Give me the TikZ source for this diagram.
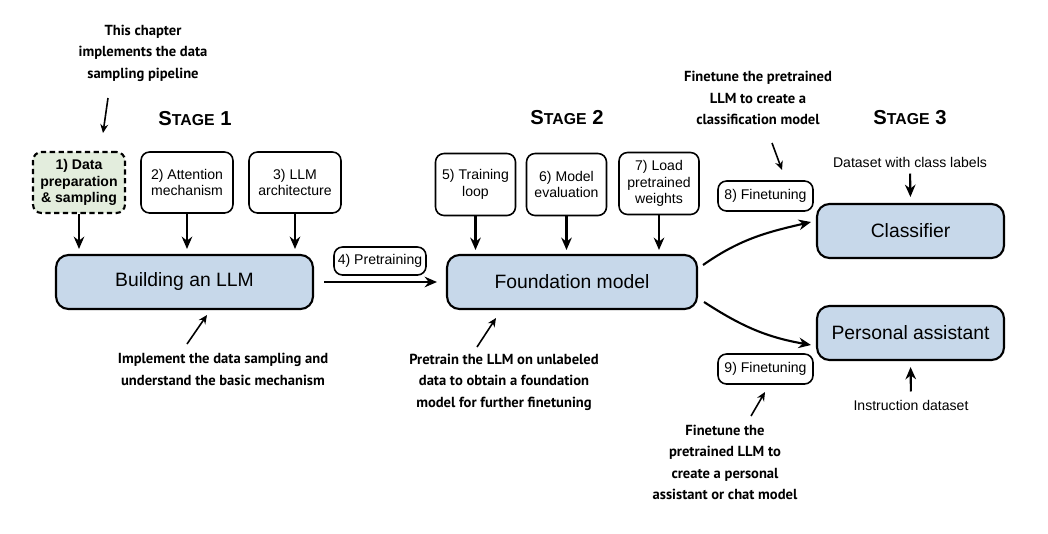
\documentclass[tikz,border=0pt]{standalone}
\usepackage{fontspec}
\setmainfont{Liberation Sans}
\newfontfamily\notefont{PT Sans}
\usepackage{xcolor}
\usetikzlibrary{arrows.meta}
\definecolor{llmblue}{RGB}{199,216,234}
\definecolor{datagreen}{RGB}{227,237,221}

\begin{document}
\begin{tikzpicture}[x=0.02cm,y=-0.02cm,
	smallbox/.style={draw,line width=0.9pt,rounded corners=0.17cm,align=center,inner sep=0pt,font=\fontsize{8}{9.4}\selectfont},
	bigbox/.style={draw,line width=1.2pt,rounded corners=0.25cm,fill=llmblue,minimum height=1.08cm,font=\fontsize{11}{13}\selectfont},
	note/.style={align=center,inner sep=0pt,font=\notefont\bfseries\fontsize{8.3}{12.2}\selectfont},
	plain/.style={inner sep=0pt,font=\fontsize{8}{9.4}\selectfont},
	stagetitle/.style={inner sep=0pt,font=\bfseries\fontsize{11.5}{13}\selectfont},
	arr/.style={-{Stealth[length=7pt,width=6pt]},line width=1.2pt},
	notearr/.style={-{Stealth[length=5pt,width=4.5pt]},line width=0.9pt}]
	\useasboundingbox (0,0) rectangle (1048,534);
	%% stage titles
	\node[stagetitle] (s1) at (195,119) {S{\fontsize{9}{10}\selectfont TAGE} 1};
	\node[stagetitle] (s2) at (567,118) {S{\fontsize{9}{10}\selectfont TAGE} 2};
	\node[stagetitle] (s3) at (910,118) {S{\fontsize{9}{10}\selectfont TAGE} 3};
	%% stage 1 boxes
	\node[smallbox,fill=datagreen,line width=1.2pt,dash pattern=on 3pt off 2pt,minimum width=1.84cm,minimum height=1.22cm,
		font=\bfseries\fontsize{8}{9.6}\selectfont] (d1) at (79,182.5){1) Data\\preparation\\\& sampling};
	\node[smallbox,minimum width=1.84cm,minimum height=1.22cm] (d2) at (187,182.5){2) Attention\\mechanism};
	\node[smallbox,minimum width=1.84cm,minimum height=1.22cm] (d3) at (295,182.5){3) LLM\\architecture};
	\node[bigbox,minimum width=5.14cm] (build) at (184.5,282){Building an LLM};
	\node[smallbox,minimum width=1.84cm,minimum height=0.56cm] (pre) at (380,261){4) Pretraining};
	%% stage 2 boxes
	\node[smallbox,minimum width=1.6cm,minimum height=1.24cm] (t5) at (475.5,184.5){5) Training\\loop};
	\node[smallbox,minimum width=1.6cm,minimum height=1.24cm] (t6) at (566.5,184.5){6) Model\\evaluation};
	\node[smallbox,minimum width=1.6cm,minimum height=1.24cm] (t7) at (659,183.5){7) Load\\pretrained\\weights};
	\node[bigbox,minimum width=5.0cm] (found) at (572,282){Foundation model};
	%% stage 3 boxes
	\node[smallbox,minimum width=1.9cm,minimum height=0.6cm] (f8) at (765.5,196){8) Finetuning};
	\node[smallbox,minimum width=1.9cm,minimum height=0.6cm] (f9) at (765.5,369){9) Finetuning};
	\node[bigbox,minimum width=3.74cm] (class) at (910.5,231){Classifier};
	\node[bigbox,minimum width=3.74cm] (pers) at (910.5,333){Personal assistant};
	\node[plain] (ds) at (910,162){Dataset with class labels};
	\node[plain] (ins) at (911,405){Instruction dataset};
	%% notes
	\node[note] (n1) at (143,53){This chapter\\implements the data\\sampling pipeline};
	\node[note] (n2) at (223,369.5){Implement the data sampling and\\understand the basic mechanism};
	\node[note] (n3) at (504,382){Pretrain the LLM on unlabeled\\data to obtain a foundation\\model for further finetuning};
	\node[note] (n4) at (758,98){Finetune the pretrained\\LLM to create a\\classification model};
	\node[note] (n5) at (725,462.5){Finetune the\\pretrained LLM to\\create a personal\\assistant or chat model};
	%% note arrows end near the boxes
	\coordinate (a1s) at (108,98); \coordinate (a1e) at (103,133);
	\coordinate (a2s) at (187,344); \coordinate (a2e) at (207,315);
	\coordinate (a3s) at (477,347); \coordinate (a3e) at (496,318);
	\coordinate (a4s) at (772,143); \coordinate (a4e) at (782,170);
	\coordinate (a5s) at (751,416); \coordinate (a5e) at (765,392);
	\draw[notearr] (a1s) -- (a1e);
	\draw[notearr] (a2s) -- (a2e);
	\draw[notearr] (a3s) -- (a3e);
	\draw[notearr] (a4s) -- (a4e);
	\draw[notearr] (a5s) -- (a5e);
	%% arrows into the big boxes
	\foreach \b in {d1,d2,d3}{
		\draw[arr,shorten >=0.1cm] (\b.south) -- (\b.south |- build.north);
		}
	\foreach \b in {t5,t6,t7}{
		\draw[arr,shorten >=0.08cm] (\b.south) -- (\b.south |- found.north);
		}
	\draw[arr,shorten <=0.2cm,shorten >=0.18cm] (build.east) -- (found.west);
	\draw[arr,shorten <=0.12cm,shorten >=0.12cm] (ds.south) -- (class.north);
	\draw[arr,shorten <=0.16cm,shorten >=0.12cm] (ins.north) -- (pers.south);
	\draw[arr] ([xshift=0.1cm,yshift=0.34cm]found.east) to[out=35,in=193] ([xshift=-0.1cm,yshift=0.18cm]class.west);
	\draw[arr] ([xshift=0.12cm,yshift=-0.4cm]found.east) to[out=-33,in=170] ([xshift=-0.1cm,yshift=-0.24cm]pers.west);
\end{tikzpicture}
\end{document}
